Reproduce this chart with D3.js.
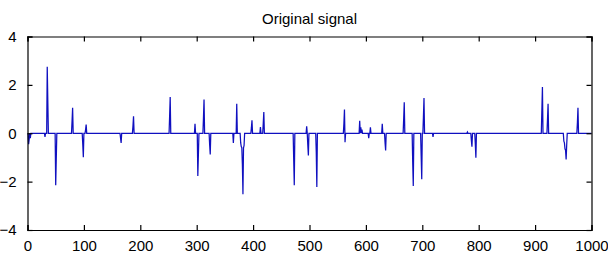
<!DOCTYPE html>
<html>
<head>
<meta charset="utf-8">
<script src="https://cdn.jsdelivr.net/npm/d3@7"></script>
<style>
  body { margin: 0; background: #fff; }
  text { font-family: "Liberation Sans Narrow", "Arial Narrow", "Liberation Sans", Arial, sans-serif; }
</style>
</head>
<body>
<svg id="chart" width="608" height="260"></svg>
<script>
// Données (signal creux, 1000 échantillons)
const nSamples = 1000;
const spikeIdx = [2, 3, 5, 31, 35, 36, 50, 51, 79, 80, 98, 99, 103, 104,
    165, 166, 187, 188, 252, 253, 297, 302, 303, 312, 313, 323, 324,
    365, 371, 378, 379, 380, 381, 382, 383, 384, 397, 398, 413, 418, 419,
    472, 473, 495, 497, 498, 512, 513, 561, 562, 563, 589, 591, 593,
    605, 608, 629, 634, 635, 667, 668, 683, 684, 698, 699, 702, 703,
    719, 780, 787, 788, 794, 795, 912, 913, 922, 923,
    951, 952, 953, 954, 955, 956, 975, 976];
const spikeVal = [-0.45, -0.25, -0.2, -0.15, 2.75, 1.35, -2.15, -1.05, 0.5, 1.05, -0.46, -0.99, 0.15, 0.36,
    -0.2, -0.4, 0.3, 0.7, 0.7, 1.5, 0.39, -1.77, -0.88, 0.63, 1.39, -0.5, -0.88,
    -0.4, 1.22, -0.4, -0.55, -0.6, -1.3, -2.52, -0.6, -0.5, 0.22, 0.54, 0.26, 0.4, 0.88,
    -1.08, -2.15, 0.29, -0.5, -0.92, -0.8, -2.22, 0.4, 0.98, -0.37, 0.52, 0.25, 0.15,
    -0.2, 0.25, 0.39, -0.4, -0.71, 0.6, 1.28, -1.2, -2.18, -0.95, -1.9, 0.67, 1.46,
    -0.15, 0.05, -0.3, -0.56, -0.45, -1.01, 0.95, 1.91, 0.59, 1.22,
    -0.33, -0.4, -0.64, -0.7, -1.08, -0.5, 0.43, 1.05];
const xTicks = [0, 100, 200, 300, 400, 500, 600, 700, 800, 900, 1000];
const yTicks = [-4, -2, 0, 2, 4];
const title = 'Original signal';

// Construire le signal complet
const signal = [];
for (let i = 1; i <= nSamples; i++) {
    signal.push({ x: i, y: 0 });
}
spikeIdx.forEach((idx, k) => { signal[idx - 1].y = spikeVal[k]; });

const svg = d3.select('#chart');
const margin = { top: 36.5, right: 16.5, bottom: 30, left: 27.5 };
const width = 608, height = 260;
const plotW = width - margin.left - margin.right;
const plotH = height - margin.top - margin.bottom;

const xScale = d3.scaleLinear().domain([0, 1000]).range([0, plotW]);
const yScale = d3.scaleLinear().domain([-4, 4]).range([plotH, 0]);

const plot = svg.append('g').attr('transform', `translate(${margin.left},${margin.top})`);

// Signal
plot.append('path')
    .datum(signal)
    .attr('fill', 'none')
    .attr('stroke', '#1010c0')
    .attr('stroke-width', 1.25)
    .attr('d', d3.line().x(d => xScale(d.x)).y(d => yScale(d.y)));

// Axes (ticks vers l'intérieur, style MATLAB)
const tickLen = 5;
plot.append('g')
    .attr('transform', `translate(0,${plotH})`)
    .call(d3.axisBottom(xScale).tickValues(xTicks).tickSize(-tickLen).tickPadding(10).tickFormat(d3.format('d')));
plot.append('g')
    .call(d3.axisTop(xScale).tickValues(xTicks).tickSize(-tickLen).tickFormat(''));
plot.append('g')
    .call(d3.axisLeft(yScale).tickValues(yTicks).tickSize(-tickLen).tickPadding(11).tickFormat(d3.format('d')));
plot.append('g')
    .attr('transform', `translate(${plotW},0)`)
    .call(d3.axisRight(yScale).tickValues(yTicks).tickSize(-tickLen).tickFormat(''));

plot.selectAll('.domain').attr('stroke', '#000').attr('stroke-width', 1.2);
plot.selectAll('.tick line').attr('stroke', '#000').attr('stroke-width', 1.2);
plot.selectAll('.tick text').attr('font-size', 15).attr('fill', '#000');

// Titre
svg.append('text')
    .attr('x', margin.left + plotW / 2)
    .attr('y', 24)
    .attr('text-anchor', 'middle')
    .attr('font-size', 15)
    .attr('fill', '#000')
    .text(title);
</script>
</body>
</html>
